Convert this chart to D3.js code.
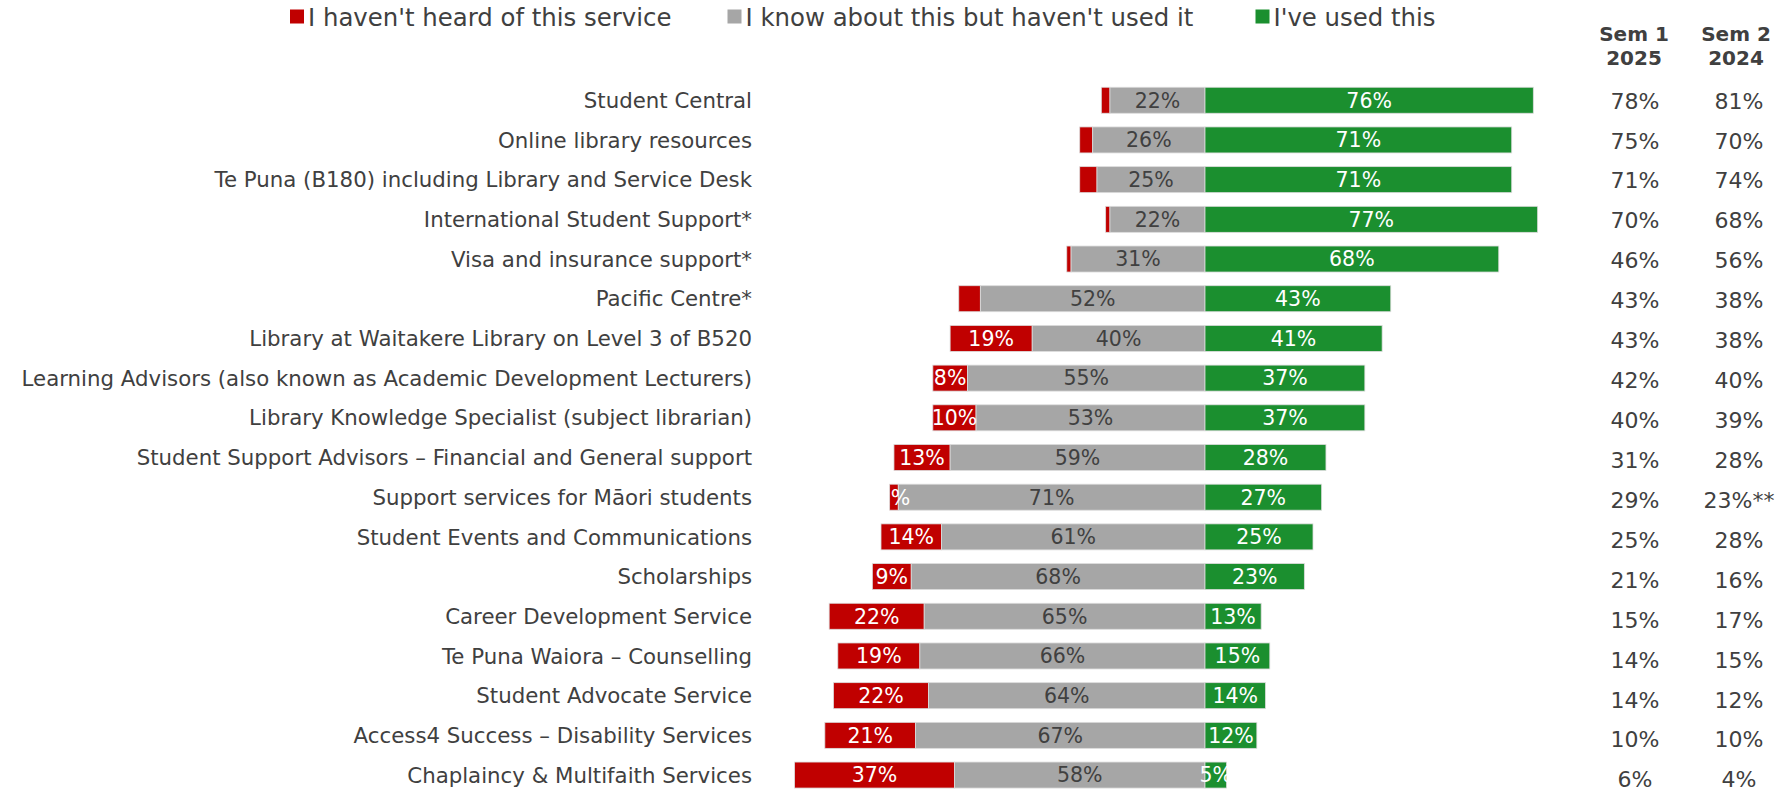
<!DOCTYPE html>
<html>
<head>
<meta charset="utf-8">
<script src="https://cdn.jsdelivr.net/npm/d3@7"></script>
<style>
  html, body { margin: 0; padding: 0; background: #ffffff; }
  svg { display: block; }
  text { font-family: "DejaVu Sans", Verdana, sans-serif; }
</style>
</head>
<body>
<svg id="chart" width="1788" height="791"></svg>
<script>
const categories = [
  "Student Central",
  "Online library resources",
  "Te Puna (B180) including Library and Service Desk",
  "International Student Support*",
  "Visa and insurance support*",
  "Pacific Centre*",
  "Library at Waitakere Library on Level 3 of B520",
  "Learning Advisors (also known as Academic Development Lecturers)",
  "Library Knowledge Specialist (subject librarian)",
  "Student Support Advisors \u2013 Financial and General support",
  "Support services for M\u0101ori students",
  "Student Events and Communications",
  "Scholarships",
  "Career Development Service",
  "Te Puna Waiora \u2013 Counselling",
  "Student Advocate Service",
  "Access4 Success \u2013 Disability Services",
  "Chaplaincy & Multifaith Services"
];
const notHeard = [2, 3, 4, 1, 1, 5, 19, 8, 10, 13, 2, 14, 9, 22, 19, 22, 21, 37];
const knowNotUsed = [22, 26, 25, 22, 31, 52, 40, 55, 53, 59, 71, 61, 68, 65, 66, 64, 67, 58];
const used = [76, 71, 71, 77, 68, 43, 41, 37, 37, 28, 27, 25, 23, 13, 15, 14, 12, 5];
const notHeardLabelShown = [false, false, false, false, false, false, true, true, true, true, true, true, true, true, true, true, true, true];
const sem1_2025 = ["78%", "75%", "71%", "70%", "46%", "43%", "43%", "42%", "40%", "31%", "29%", "25%", "21%", "15%", "14%", "14%", "10%", "6%"];
const sem2_2024 = ["81%", "70%", "74%", "68%", "56%", "38%", "38%", "40%", "39%", "28%", "23%**", "28%", "16%", "17%", "15%", "12%", "10%", "4%"];
const seriesNames = ["I haven't heard of this service", "I know about this but haven't used it", "I've used this"];
const columnHeaders = [["Sem 1", "2025"], ["Sem 2", "2024"]];

const colors = { red: "#C00000", grey: "#A6A6A6", green: "#1B8F2F" };
const textDark = "#404040";

const svg = d3.select("#chart");

// Scales
const x = d3.scaleLinear().domain([-100, 100]).range([1205 - 432, 1205 + 432]);
const y = d3.scaleBand().domain(categories).range([80.5, 794.8]).paddingInner(0.345).paddingOuter(0.17);
const yTable = d3.scalePoint().domain(categories).range([100.7, 779.5]);

const rows = categories.map((c, i) => ({
  cat: c, red: notHeard[i], grey: knowNotUsed[i], green: used[i],
  showRed: notHeardLabelShown[i], s1: sem1_2025[i], s2: sem2_2024[i]
}));

// Segments
const segs = [];
rows.forEach(r => {
  segs.push({ cat: r.cat, x0: -(r.red + r.grey), x1: -r.grey, v: r.red, color: colors.red, tc: "#ffffff", show: r.showRed });
  segs.push({ cat: r.cat, x0: -r.grey, x1: 0, v: r.grey, color: colors.grey, tc: textDark, show: true });
  segs.push({ cat: r.cat, x0: 0, x1: r.green, v: r.green, color: colors.green, tc: "#ffffff", show: true });
});

const bars = svg.append("g");
bars.selectAll("rect").data(segs).join("rect")
  .attr("x", d => x(d.x0))
  .attr("y", d => y(d.cat))
  .attr("width", d => x(d.x1) - x(d.x0))
  .attr("height", y.bandwidth())
  .attr("fill", d => d.color)
  .attr("stroke", "#dcdcdc")
  .attr("stroke-width", 0.8);

bars.selectAll("text").data(segs.filter(d => d.show)).join("text")
  .attr("x", d => (x(d.x0) + x(d.x1)) / 2)
  .attr("y", d => y(d.cat) + y.bandwidth() / 2)
  .attr("dy", "0.36em")
  .attr("text-anchor", "middle")
  .attr("font-size", 20.5)
  .attr("fill", d => d.tc)
  .text(d => d.v + "%");

// Category labels
svg.append("g").selectAll("text").data(categories).join("text")
  .attr("x", 752)
  .attr("y", d => y(d) + y.bandwidth() / 2)
  .attr("dy", "0.36em")
  .attr("text-anchor", "end")
  .attr("font-size", 21.3)
  .attr("fill", textDark)
  .text(d => d);

// Right-hand table
const colX = [1635, 1739];
const headX = [1634, 1736];
const hdr = svg.append("g");
columnHeaders.forEach((h, j) => {
  h.forEach((line, k) => {
    hdr.append("text")
      .attr("x", headX[j])
      .attr("y", 34 + k * 24)
      .attr("dy", "0.36em")
      .attr("text-anchor", "middle")
      .attr("font-size", 20)
      .attr("font-weight", "bold")
      .attr("fill", textDark)
      .text(line);
  });
});
[sem1_2025, sem2_2024].forEach((col, j) => {
  svg.append("g").selectAll("text").data(col).join("text")
    .attr("x", colX[j])
    .attr("y", (d, i) => yTable(categories[i]))
    .attr("dy", "0.36em")
    .attr("text-anchor", "middle")
    .attr("font-size", 22)
    .attr("fill", textDark)
    .text(d => d);
});

// Legend
const legendX = [290, 727.5, 1255.5];
const legendColors = [colors.red, colors.grey, colors.green];
const lg = svg.append("g");
seriesNames.forEach((name, i) => {
  lg.append("rect")
    .attr("x", legendX[i]).attr("y", 9.5)
    .attr("width", 14).attr("height", 14)
    .attr("fill", legendColors[i]);
  lg.append("text")
    .attr("x", legendX[i] + 18)
    .attr("y", 17)
    .attr("dy", "0.36em")
    .attr("font-size", 24.4)
    .attr("fill", textDark)
    .text(name);
});
</script>
</body>
</html>
